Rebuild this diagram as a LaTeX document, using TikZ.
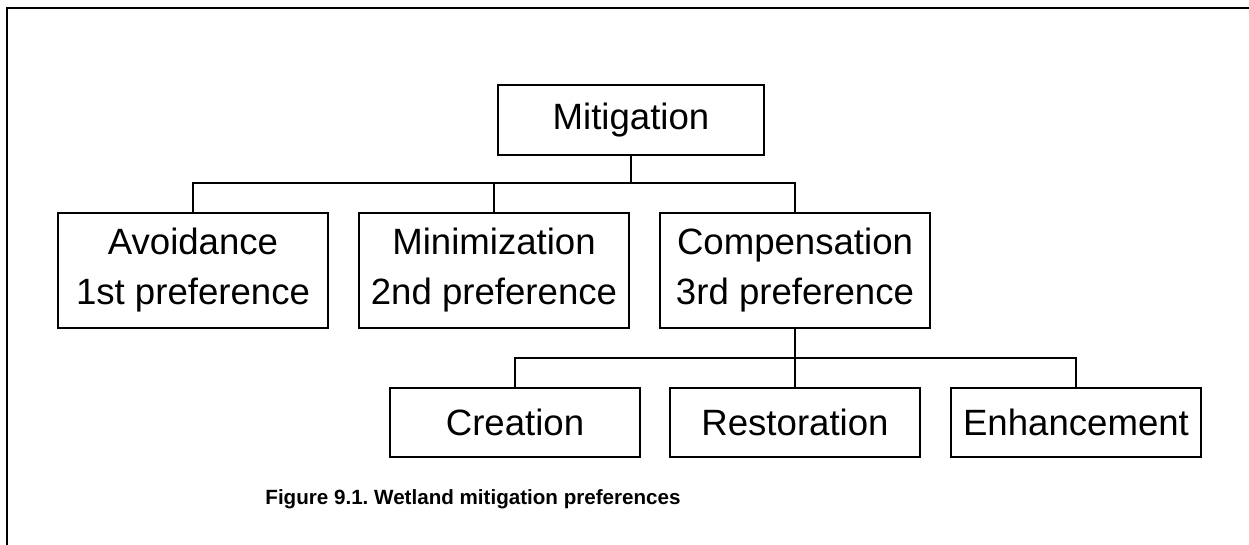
\documentclass[tikz,border=0pt]{standalone}
\usepackage{fontspec}
\setmainfont{Liberation Sans}
\usepackage{tikz}

\begin{document}
\frenchspacing
\begin{tikzpicture}[x=0.5pt,y=-0.5pt,
  box/.style={draw,line width=1.1pt,rectangle,inner sep=0pt,align=center,
    font=\fontsize{18.3}{25}\selectfont},
  topbox/.style={box,minimum width=135pt,minimum height=57.5pt},
  subbox/.style={box,minimum width=125pt,minimum height=34.5pt},
  link/.style={line width=1.1pt}]
\useasboundingbox (0,0) rectangle (1249,545);
% frame, top and left side only
\draw[line width=1.4pt] (7,545) -- (7,8) -- (1249,8);
\node[box,minimum width=133pt,minimum height=35pt](mit) at (631,120){Mitigation};
\node[topbox](avo) at (193,270.5){Avoidance\\1st preference};
\node[topbox](mini) at (494,270.5){Minimization\\2nd preference};
\node[topbox](comp) at (795,270.5){Compensation\\3rd preference};
\node[subbox](crea) at (515,422.5){Creation};
\node[subbox](rest) at (795,422.5){Restoration};
\node[subbox](enh) at (1076,422.5){Enhancement};
\coordinate (bus1) at (631,183);
\coordinate (bus2) at (795,358);
\draw[link] (mit) -- (bus1);
\draw[link] (avo.north) |- (bus1) -| (comp.north);
\draw[link] (mini.north) -- (mini.north |- bus1);
\draw[link] (comp) -- (rest);
\draw[link] (crea.north) |- (bus2) -| (enh.north);
\node[font=\fontsize{10.3}{12}\selectfont\bfseries](cap) at (473,499){Figure 9.1. Wetland mitigation preferences};
\end{tikzpicture}
\end{document}
